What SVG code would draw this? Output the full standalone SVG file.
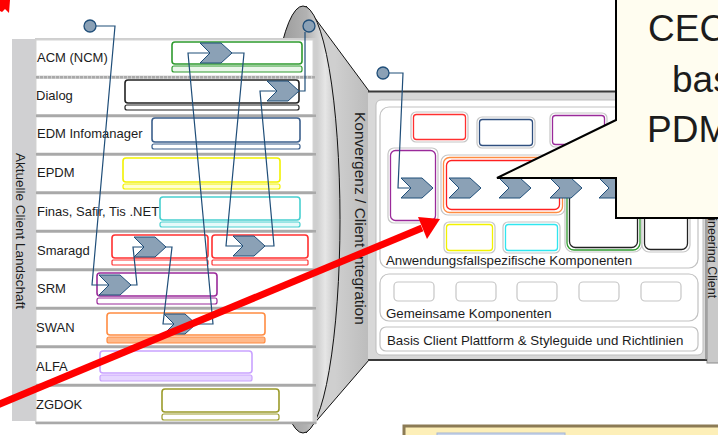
<svg xmlns="http://www.w3.org/2000/svg" width="718" height="435" viewBox="0 0 718 435">
  <style>
    text { font-family: "Liberation Sans", Arial, sans-serif; fill: #1c1c1c; }
    .lbl { font-size: 13px; }
    .rlbl { font-size: 13.3px; }
    .row { fill: #fff; stroke: #d4d4d4; stroke-width: 1; }
    .sep { stroke: #a9a9a9; stroke-width: 2.5; }
    .box { fill: #fff; stroke-width: 1.6; }
    .bar { stroke-width: 1.2; }
    .conn { fill: none; stroke: #1f4e79; stroke-width: 1.2; }
    .chev { fill: #8ba1b6; stroke: #1f4e79; stroke-width: 1; }
    .dot { fill: #8ba1b6; stroke: #1f4e79; stroke-width: 1.3; }
    .slot { fill: #fff; stroke: #c6c6c6; stroke-width: 1.2; }
    .comp { fill: #fff; stroke-width: 1.3; }
    .grp { fill: #fff; stroke: #c2c2c2; stroke-width: 1.2; }
    .mark { fill: #ff0000; }
  </style>
  <defs>
    <linearGradient id="drum" gradientUnits="userSpaceOnUse" x1="266" y1="0" x2="340" y2="0">
      <stop offset="0" stop-color="#8e8e8e"/>
      <stop offset="0.55" stop-color="#b2b2b2"/>
      <stop offset="0.8" stop-color="#e6e6e6"/>
      <stop offset="1" stop-color="#bdbdbd"/>
    </linearGradient>
    <linearGradient id="cone" gradientUnits="userSpaceOnUse" x1="335" y1="0" x2="369" y2="0">
      <stop offset="0" stop-color="#cfcfcf"/>
      <stop offset="1" stop-color="#bcbcbc"/>
    </linearGradient>
    <path id="chevron" class="chev" d="M0,0 H21 L32,10 L21,20 H0 L10,10 Z"/>
  </defs>

  <rect width="718" height="435" fill="#fff"/>

  <!-- convergence funnel -->
  <g id="funnel">
    <polygon points="306,6 369,91 369,360 306,433" fill="url(#cone)" stroke="#111" stroke-width="1"/>
    <ellipse cx="303" cy="219.5" rx="37" ry="213.5" fill="url(#drum)" stroke="#111" stroke-width="1"/>
    <text transform="translate(355,112) rotate(90)" font-size="15.5">Konvergenz / Client Integration</text>
  </g>

  <!-- current client landscape -->
  <g id="landscape">
    <rect x="12" y="39" width="23" height="382" fill="#d0d0d2"/>
    <text transform="translate(16,153) rotate(90)" font-size="13.5" fill="#333">Aktuelle Client Landschaft</text>
    <rect x="35" y="38" width="282" height="386" fill="#cfcfcf"/>
    <rect class="row" x="36" y="40" width="277" height="36"/>
    <rect class="row" x="36" y="78.5" width="277" height="36"/>
    <rect class="row" x="36" y="117" width="277" height="36"/>
    <rect class="row" x="36" y="155.5" width="277" height="36"/>
    <rect class="row" x="36" y="194" width="277" height="36"/>
    <rect class="row" x="36" y="232.5" width="277" height="36"/>
    <rect class="row" x="36" y="271" width="277" height="36"/>
    <rect class="row" x="36" y="309.5" width="277" height="36"/>
    <rect class="row" x="36" y="348" width="277" height="36"/>
    <rect class="row" x="36" y="386.5" width="277" height="35.5"/>
    <g class="sep">
      <line x1="36" y1="77.2" x2="316" y2="77.2" stroke-dasharray="3 1"/>
      <line x1="36" y1="115.7" x2="316" y2="115.7"/>
      <line x1="36" y1="154.2" x2="316" y2="154.2"/>
      <line x1="36" y1="192.7" x2="316" y2="192.7"/>
      <line x1="36" y1="231.2" x2="316" y2="231.2"/>
      <line x1="36" y1="269.7" x2="316" y2="269.7"/>
      <line x1="36" y1="308.2" x2="316" y2="308.2"/>
      <line x1="36" y1="346.7" x2="316" y2="346.7"/>
      <line x1="36" y1="385.2" x2="316" y2="385.2"/>
      <line x1="36" y1="423" x2="316" y2="423"/>
    </g>
  </g>

  <g id="row-acm">
    <text class="lbl" x="37" y="62">ACM (NCM)</text>
    <rect class="box" x="172" y="42" width="130" height="22" rx="3" stroke="#2e9a2e"/>
    <rect class="bar" x="172" y="66" width="130" height="6" rx="2" fill="#eaf6ea" stroke="#2e9a2e"/>
  </g>
  <g id="row-dialog">
    <text class="lbl" x="36" y="100">Dialog</text>
    <rect class="box" x="125" y="80" width="174" height="23" rx="3" stroke="#222"/>
    <rect class="bar" x="125" y="105" width="174" height="5" rx="2" fill="#fff" stroke="#222"/>
  </g>
  <g id="row-edm">
    <text class="lbl" x="37" y="138">EDM Infomanager</text>
    <rect class="box" x="152" y="118" width="148" height="24" rx="3" stroke="#3b5f8c"/>
    <rect class="bar" x="152" y="144" width="148" height="5" rx="2" fill="#fff" stroke="#3b5f8c"/>
  </g>
  <g id="row-epdm">
    <text class="lbl" x="37" y="177">EPDM</text>
    <rect class="box" x="123" y="158" width="157" height="24" rx="3" stroke="#f2f200" stroke-width="2"/>
    <rect class="bar" x="123" y="184" width="157" height="5" rx="2" fill="#ffffd0" stroke="#f2f200"/>
  </g>
  <g id="row-finas">
    <text class="lbl" x="37" y="216">Finas, Safir, Tis .NET</text>
    <rect class="box" x="160" y="197" width="140" height="23" rx="3" stroke="#48d0d0"/>
    <rect class="bar" x="160" y="222" width="140" height="5" rx="2" fill="#e6fafa" stroke="#48d0d0"/>
  </g>
  <g id="row-smaragd">
    <text class="lbl" x="37" y="255">Smaragd</text>
    <rect class="box" x="112" y="235" width="96" height="23" rx="3" stroke="#ff3030"/>
    <rect class="bar" x="112" y="260" width="96" height="5" rx="1" fill="#fff" stroke="#ff3030"/>
    <rect class="box" x="212" y="235" width="96" height="23" rx="3" stroke="#ff3030"/>
    <rect class="bar" x="212" y="260" width="96" height="5" rx="1" fill="#fff" stroke="#ff3030"/>
  </g>
  <g id="row-srm">
    <text class="lbl" x="37" y="293">SRM</text>
    <rect class="box" x="97" y="273" width="120" height="23" rx="3" stroke="#9a2a9a"/>
    <rect class="bar" x="97" y="298" width="120" height="6" rx="2" fill="#fff" stroke="#9a2a9a"/>
  </g>
  <g id="row-swan">
    <text class="lbl" x="36" y="332">SWAN</text>
    <rect class="box" x="107" y="313" width="158" height="22" rx="3" stroke="#ff8c42"/>
    <rect class="bar" x="107" y="337" width="158" height="6" rx="2" fill="#ffb98a" stroke="#ff8c42"/>
  </g>
  <g id="row-alfa">
    <text class="lbl" x="36" y="371">ALFA</text>
    <rect class="box" x="100" y="351" width="152" height="22" rx="3" stroke="#c9a2ff"/>
    <rect class="bar" x="100" y="375" width="152" height="6" rx="2" fill="#e6d6ff" stroke="#c9a2ff"/>
  </g>
  <g id="row-zgdok">
    <text class="lbl" x="36" y="409">ZGDOK</text>
    <rect class="box" x="162" y="389" width="117" height="23" rx="3" stroke="#9b9b2a"/>
    <rect class="bar" x="162" y="414" width="117" height="6" rx="2" fill="#fff" stroke="#9b9b2a"/>
  </g>

  <!-- target client platform -->
  <g id="platform">
    <rect x="707" y="91" width="14" height="272" fill="#c9c9c9" stroke="#8a8a8a" stroke-width="1"/>
    <text transform="translate(708,196) rotate(90)" font-size="12.5" fill="#333">Engineering Client</text>
    <rect x="368" y="91" width="339" height="269" fill="#d8d8d8"/>
    <line x1="368" y1="91.5" x2="707" y2="91.5" stroke="#3a3a3a" stroke-width="2"/>
    <line x1="368" y1="360" x2="707" y2="360" stroke="#3a3a3a" stroke-width="2"/>
    <line x1="706" y1="91" x2="706" y2="360" stroke="#6a6a6a" stroke-width="1"/>
    <rect x="376" y="100" width="327" height="255" rx="5" fill="#fff" stroke="#bdbdbd"/>
  </g>

  <g id="usecase-components">
    <rect class="grp" x="380" y="107" width="318" height="161" rx="9"/>
    <text class="rlbl" x="386" y="265">Anwendungsfallspezifische Komponenten</text>
    <rect class="slot" x="411" y="112" width="57" height="30" rx="5"/>
    <rect class="comp" x="413.5" y="114.5" width="52" height="25" rx="3" stroke="#ff3030"/>
    <rect class="slot" x="477" y="117" width="58" height="31" rx="5"/>
    <rect class="comp" x="479.5" y="119.5" width="53" height="26" rx="3" stroke="#2f4f7f"/>
    <rect class="slot" x="550" y="113" width="57" height="34" rx="5"/>
    <rect class="comp" x="552.5" y="115.5" width="52" height="29" rx="3" stroke="#9a2a9a"/>
    <rect class="slot" x="388" y="148" width="50" height="75" rx="6"/>
    <rect class="comp" x="390.5" y="150.5" width="45" height="70" rx="5" stroke="#9a2a9a"/>
    <rect class="slot" x="441" y="155" width="124" height="60" rx="7"/>
    <rect class="comp" x="443.5" y="157.5" width="119" height="55" rx="6" stroke="#ff8c42"/>
    <rect class="comp" x="446.5" y="160.5" width="113" height="49" rx="5" stroke="#ff2020"/>
    <rect class="slot" x="565" y="152" width="77" height="100" rx="8"/>
    <rect class="comp" x="567" y="154" width="73" height="96" rx="7" stroke="#2e9a2e"/>
    <rect class="comp" x="569.5" y="156.5" width="68" height="91" rx="6" stroke="#222"/>
    <rect class="slot" x="642" y="152" width="48" height="100" rx="7"/>
    <rect class="comp" x="644.5" y="154.5" width="43" height="95" rx="6" stroke="#222"/>
    <rect class="slot" x="444" y="222" width="51" height="31" rx="5"/>
    <rect class="comp" x="446.5" y="224.5" width="46" height="26" rx="3" stroke="#f2f200" stroke-width="1.8"/>
    <rect class="slot" x="503" y="222" width="57" height="31" rx="5"/>
    <rect class="comp" x="505.5" y="224.5" width="52" height="26" rx="3" stroke="#30e6f0" stroke-width="1.6"/>
  </g>

  <g id="shared-components">
    <rect class="grp" x="380" y="274" width="318" height="47" rx="9"/>
    <rect class="slot" x="394" y="282" width="40" height="19" rx="4" stroke="#a8a8a8"/>
    <rect class="slot" x="456" y="282" width="40" height="19" rx="4" stroke="#a8a8a8"/>
    <rect class="slot" x="517" y="282" width="40" height="19" rx="4" stroke="#a8a8a8"/>
    <rect class="slot" x="579" y="282" width="40" height="19" rx="4" stroke="#a8a8a8"/>
    <rect class="slot" x="641" y="282" width="40" height="19" rx="4" stroke="#a8a8a8"/>
    <text class="rlbl" x="386" y="317.5">Gemeinsame Komponenten</text>
  </g>

  <g id="base-platform">
    <rect class="grp" x="380" y="327" width="318" height="24" rx="6"/>
    <text class="rlbl" x="387" y="345">Basis Client Plattform &amp; Styleguide und Richtlinien</text>
  </g>

  <!-- process flow connectors -->
  <g id="connectors" class="conn">
    <polyline points="96,26 115,26 92,285 109,285"/>
    <polyline points="305,32 305,91 297,91"/>
    <polyline points="210,53 188,53 213,324 196,324"/>
    <polyline points="232,53 244,53 226,246 243,246"/>
    <polyline points="277,91 260,91 274,246 265,246"/>
    <polyline points="131,285 137,285 133,247 144,247"/>
    <polyline points="166,247 172,247 163,324 175,324"/>
    <polyline points="389,73 403,73 398,188 411,188"/>
  </g>

  <!-- process steps -->
  <g id="steps-left">
    <use href="#chevron" x="200" y="43"/>
    <use href="#chevron" x="267" y="81"/>
    <use href="#chevron" x="134" y="237"/>
    <use href="#chevron" x="233" y="236"/>
    <use href="#chevron" x="99" y="275"/>
    <use href="#chevron" x="164" y="314"/>
  </g>
  <g id="steps-right">
    <use href="#chevron" x="401" y="178"/>
    <use href="#chevron" x="449" y="178"/>
    <use href="#chevron" x="499" y="178"/>
    <use href="#chevron" x="550" y="178"/>
    <use href="#chevron" x="599" y="178"/>
  </g>
  <g id="start-points">
    <circle class="dot" cx="90" cy="26" r="6"/>
    <circle class="dot" cx="309" cy="26" r="6"/>
    <circle class="dot" cx="383" cy="73" r="6"/>
  </g>

  <!-- highlight arrow -->
  <g id="highlight">
    <polygon class="mark" points="0,0 10,0 9,13 5,9 2,12 0,11"/>
    <line x1="-10" y1="408" x2="422" y2="228" stroke="#ff0000" stroke-width="7"/>
    <polygon class="mark" points="440,219 418,217 427,239"/>
  </g>

  <!-- callout -->
  <g id="callout">
    <path d="M616,-5 V120 L497,178 H616 V218 H725 V-5 Z" fill="#fffdf0" stroke="#000" stroke-width="2"/>
    <text x="648" y="41" font-size="37" fill="#111">CEC</text>
    <text x="672" y="92" font-size="37" fill="#111">bas</text>
    <text x="647" y="142" font-size="37" fill="#111">PDM</text>
  </g>

  <!-- note box -->
  <g id="note">
    <rect x="404" y="426" width="320" height="20" fill="#fdefb8" stroke="#8c7b55" stroke-width="3"/>
    <rect x="437" y="433" width="128" height="10" fill="#c8d5ea" stroke="#a6b6d4" stroke-width="1"/>
  </g>
</svg>
